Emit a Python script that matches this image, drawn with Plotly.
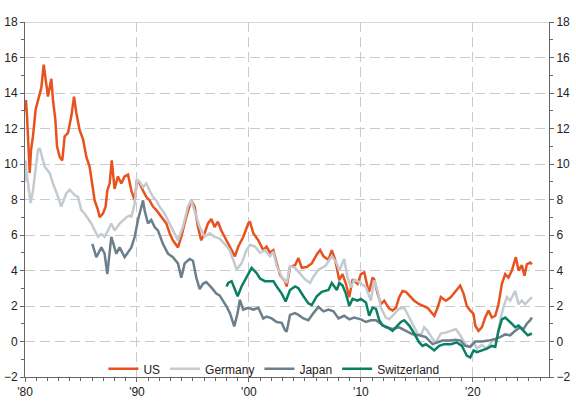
import plotly.graph_objects as go

# 10y government bond yields (%)
us_year = [1980.0, 1980.09, 1980.18, 1980.33, 1980.42, 1980.54, 1980.71, 1980.95, 1981.31, 1981.46,
           1981.67, 1981.85, 1982.05, 1982.35, 1982.5, 1982.71, 1982.86, 1983.1, 1983.33, 1983.54,
           1983.84, 1984.14, 1984.38, 1984.58, 1984.88, 1985.18, 1985.48, 1985.77, 1986.01, 1986.22,
           1986.52, 1986.67, 1986.96, 1987.2, 1987.35, 1987.56, 1987.75, 1988.0, 1988.3, 1988.6,
           1988.9, 1989.2, 1989.5, 1989.8, 1990.0, 1990.24, 1990.54, 1990.83, 1991.13, 1991.43,
           1991.73, 1992.17, 1992.62, 1992.92, 1993.21, 1993.66, 1993.96, 1994.4, 1994.85, 1995.15,
           1995.45, 1995.74, 1996.04, 1996.34, 1996.64, 1996.93, 1997.23, 1997.53, 1997.83, 1998.13,
           1998.75, 1999.05, 1999.5, 1999.94, 2000.09, 2000.39, 2000.84, 2001.28, 2001.58, 2001.88,
           2002.18, 2002.48, 2002.78, 2003.22, 2003.37, 2003.67, 2004.12, 2004.42, 2004.72, 2005.16,
           2005.61, 2006.06, 2006.36, 2006.66, 2007.1, 2007.4, 2007.7, 2008.07, 2008.36, 2008.66,
           2008.96, 2009.26, 2009.7, 2010.0, 2010.3, 2010.6, 2010.74, 2011.04, 2011.19, 2011.49,
           2011.79, 2012.08, 2012.53, 2012.83, 2013.13, 2013.42, 2013.72, 2014.02, 2014.32, 2014.76,
           2015.21, 2015.65, 2015.95, 2016.55, 2016.85, 2017.14, 2017.59, 2018.04, 2018.48, 2018.87,
           2019.17, 2019.46, 2019.76, 2020.06, 2020.21, 2020.5, 2020.8, 2021.1, 2021.4, 2021.7,
           2022.0, 2022.29, 2022.59, 2022.89, 2023.18, 2023.48, 2023.84, 2024.08, 2024.38, 2024.61,
           2024.82, 2025.12, 2025.27]
us_yield = [13.0, 13.6, 12.7, 10.2, 9.5, 10.8, 11.55, 13.07, 14.0, 14.3,
            15.6, 14.6, 13.8, 14.8, 13.6, 12.5, 11.0, 10.4, 10.2, 11.55,
            11.75, 12.7, 13.8, 12.9, 11.9, 11.4, 10.4, 9.85, 8.9, 7.95,
            7.4, 7.0, 7.2, 7.6, 8.5, 8.9, 10.2, 8.6, 9.3, 8.9,
            9.3, 9.4, 8.5, 7.95, 9.1, 8.9, 8.5, 8.15, 7.95, 7.6,
            7.4, 7.0, 6.65, 6.1, 5.7, 5.3, 5.9, 7.0, 7.95, 7.6,
            6.45, 5.7, 6.1, 6.65, 6.9, 6.45, 6.75, 6.25, 5.9, 5.5,
            4.8, 5.35, 5.9, 6.65, 6.75, 6.1, 5.7, 5.15, 5.35, 5.0,
            5.15, 4.4, 3.75, 3.4, 3.1, 4.2, 4.3, 4.7, 4.15, 4.2,
            4.4, 4.9, 5.15, 4.8, 4.6, 5.15, 4.6, 3.45, 3.8, 3.25,
            2.5, 3.5, 3.25, 3.8, 3.9, 3.05, 2.8, 3.6, 3.5, 2.7,
            2.1, 2.3, 1.85, 1.75, 1.9, 2.5, 2.85, 2.8, 2.6, 2.3,
            2.1, 2.0, 1.9, 1.45, 1.9, 2.5, 2.3, 2.5, 2.85, 3.15,
            2.7, 2.0, 1.75, 1.55, 0.9, 0.6, 0.8, 1.35, 1.75, 1.35,
            1.45, 2.1, 3.25, 3.8, 3.6, 4.0, 4.75, 4.0, 4.3, 3.7,
            4.35, 4.45, 4.35]

de_year = [1980.0, 1980.06, 1980.12, 1980.33, 1980.5, 1980.71, 1980.95, 1981.16, 1981.31, 1981.52,
           1981.76, 1982.2, 1982.5, 1982.95, 1983.24, 1983.69, 1983.99, 1984.43, 1984.73, 1985.03,
           1985.33, 1985.92, 1986.22, 1986.52, 1986.82, 1987.11, 1987.41, 1987.71, 1988.0, 1988.45,
           1989.05, 1989.35, 1989.5, 1989.8, 1990.0, 1990.24, 1990.54, 1990.83, 1991.13, 1991.43,
           1991.73, 1992.02, 1992.47, 1992.92, 1993.36, 1993.66, 1994.1, 1994.55, 1994.85, 1995.15,
           1995.6, 1996.04, 1996.49, 1996.93, 1997.38, 1997.83, 1998.27, 1998.6, 1998.9, 1999.34,
           1999.79, 2000.09, 2000.54, 2000.99, 2001.43, 2001.88, 2002.18, 2002.48, 2002.93, 2003.37,
           2003.67, 2004.12, 2004.57, 2005.01, 2005.46, 2005.76, 2006.21, 2006.81, 2007.4, 2007.85,
           2008.07, 2008.51, 2008.81, 2009.11, 2009.4, 2009.85, 2010.45, 2010.89, 2011.19, 2011.49,
           2011.79, 2012.23, 2012.53, 2012.98, 2013.42, 2013.87, 2014.17, 2014.61, 2015.06, 2015.36,
           2015.65, 2015.95, 2016.4, 2016.7, 2017.14, 2017.59, 2018.04, 2018.48, 2018.87, 2019.32,
           2019.76, 2020.06, 2020.36, 2020.8, 2021.25, 2021.7, 2022.14, 2022.44, 2022.74, 2023.04,
           2023.33, 2023.78, 2024.08, 2024.38, 2024.67, 2024.97, 2025.27]
de_yield = [9.0, 10.2, 9.65, 8.5, 7.8, 8.5, 9.65, 10.8, 10.9, 10.4,
            9.85, 9.5, 8.9, 8.15, 7.6, 8.35, 8.55, 8.25, 8.15, 7.4,
            7.2, 6.65, 6.25, 5.9, 6.05, 5.9, 6.25, 6.65, 6.25, 6.65,
            7.0, 7.1, 7.0, 7.8, 9.1, 9.0, 8.7, 8.9, 8.5, 8.15,
            7.95, 7.6, 7.2, 6.65, 6.1, 5.7, 6.45, 7.6, 7.95, 7.4,
            6.45, 5.9, 6.1, 5.9, 5.8, 5.5, 5.15, 4.6, 4.05, 4.4,
            5.15, 5.45, 5.35, 5.0, 5.15, 4.8, 5.05, 4.25, 3.65, 3.3,
            4.25, 4.15, 3.85, 3.5, 3.3, 3.65, 4.05, 4.25, 4.8, 4.4,
            4.0, 4.65, 3.6, 3.05, 3.5, 3.35, 3.05, 2.3, 3.45, 2.85,
            1.9, 1.35, 1.25, 1.55, 1.85, 1.9, 1.55, 1.0, 0.45, 0.35,
            0.8, 0.6, 0.15, -0.05, 0.45, 0.5, 0.6, 0.7, 0.35, -0.15,
            -0.3, 0.0, -0.4, -0.2, -0.4, 0.0, 0.15, 1.2, 1.95, 2.5,
            2.3, 2.85, 2.1, 2.3, 2.1, 2.3, 2.5]

jp_year = [1986.01, 1986.37, 1986.82, 1987.11, 1987.35, 1987.71, 1988.15, 1988.45, 1988.9, 1989.35,
           1989.5, 1989.8, 1990.09, 1990.54, 1990.68, 1990.98, 1991.28, 1991.58, 1991.88, 1992.32,
           1992.77, 1993.21, 1993.66, 1993.96, 1994.26, 1994.7, 1995.0, 1995.3, 1995.6, 1995.89,
           1996.19, 1996.64, 1997.08, 1997.38, 1997.68, 1997.98, 1998.3, 1998.69, 1998.99, 1999.19,
           1999.49, 1999.94, 2000.39, 2000.84, 2001.28, 2001.58, 2002.03, 2002.48, 2002.93, 2003.22,
           2003.37, 2003.67, 2004.12, 2004.42, 2004.87, 2005.31, 2005.76, 2006.21, 2006.66, 2007.1,
           2007.55, 2008.0, 2008.51, 2008.96, 2009.4, 2010.0, 2010.45, 2010.89, 2011.34, 2011.79,
           2012.23, 2012.83, 2013.42, 2014.02, 2014.61, 2015.21, 2015.8, 2016.4, 2016.85, 2017.29,
           2017.89, 2018.48, 2018.9, 2019.32, 2019.76, 2020.21, 2020.8, 2021.4, 2022.0, 2022.44,
           2022.89, 2023.33, 2023.78, 2024.23, 2024.52, 2024.82, 2025.12, 2025.27]
jp_yield = [5.5, 4.75, 5.3, 4.95, 3.8, 5.9, 4.95, 5.3, 4.75, 5.15,
            5.3, 5.9, 6.85, 7.95, 7.4, 6.65, 6.85, 6.45, 6.25, 5.5,
            4.95, 4.75, 4.4, 3.6, 4.4, 4.65, 4.55, 3.6, 2.95, 3.25,
            3.35, 3.05, 2.7, 2.6, 2.3, 2.0, 1.6, 0.85, 1.6, 2.35,
            1.8, 1.9, 1.8, 1.9, 1.3, 1.4, 1.3, 1.1, 1.05, 0.65,
            0.55, 1.5, 1.6, 1.5, 1.3, 1.2, 1.6, 1.95, 1.7, 1.8,
            1.7, 1.3, 1.45, 1.25, 1.35, 1.25, 1.1, 1.2, 1.2, 1.0,
            0.8, 0.7, 0.8, 0.6, 0.4, 0.35, 0.25, -0.15, -0.05, 0.05,
            0.05, 0.1, 0.05, -0.25, -0.3, 0.0, 0.0, 0.05, 0.15, 0.25,
            0.4, 0.35, 0.6, 0.8, 0.7, 1.0, 1.2, 1.35]

ch_year = [1998.0, 1998.15, 1998.45, 1998.75, 1998.99, 1999.34, 1999.79, 2000.24, 2000.69, 2000.99,
           2001.43, 2001.88, 2002.18, 2002.48, 2002.93, 2003.28, 2003.67, 2004.12, 2004.42, 2004.87,
           2005.31, 2005.61, 2006.06, 2006.51, 2007.1, 2007.4, 2007.85, 2008.07, 2008.36, 2008.66,
           2008.96, 2009.26, 2009.7, 2010.0, 2010.45, 2010.74, 2011.04, 2011.34, 2011.64, 2011.93,
           2012.38, 2012.83, 2013.27, 2013.57, 2013.87, 2014.32, 2014.76, 2015.21, 2015.51, 2015.8,
           2016.25, 2016.55, 2016.99, 2017.44, 2018.04, 2018.57, 2019.02, 2019.46, 2019.76, 2020.06,
           2020.36, 2020.8, 2021.25, 2021.7, 2022.0, 2022.29, 2022.59, 2022.89, 2023.18, 2023.48,
           2023.78, 2024.08, 2024.38, 2024.67, 2024.91, 2025.27]
ch_yield = [3.1, 3.3, 3.4, 2.9, 2.55, 3.1, 3.65, 4.15, 3.85, 3.55,
            3.4, 3.4, 3.4, 3.1, 2.7, 2.25, 2.9, 3.1, 3.0, 2.55,
            2.15, 2.05, 2.55, 2.8, 2.9, 3.3, 2.9, 3.3, 3.15, 2.7,
            2.0, 2.4, 2.3, 2.4, 2.2, 1.45, 1.9, 1.85, 1.2, 0.9,
            0.8, 0.6, 0.9, 1.1, 1.2, 0.9, 0.45, -0.05, -0.25, -0.15,
            -0.35, -0.5, -0.25, -0.15, -0.15, -0.05, -0.25, -0.8, -0.9, -0.5,
            -0.6, -0.5, -0.4, -0.25, -0.3, 0.6, 1.25, 1.35, 1.2, 1.0,
            0.8, 0.9, 0.7, 0.5, 0.35, 0.45]

series = [
    ("US", us_year, us_yield, "#E8521E"),
    ("Germany", de_year, de_yield, "#C3CBD1"),
    ("Japan", jp_year, jp_yield, "#6C7F8C"),
    ("Switzerland", ch_year, ch_yield, "#0A8063"),
]

decade_ticks = [1980, 1990, 2000, 2010, 2020]
decade_labels = ["'80", "'90", "'00", "'10", "'20"]

fig = go.Figure()
for name, xs, ys, col in series:
    fig.add_trace(go.Scatter(x=xs, y=ys, mode="lines", name=name,
                             line=dict(color=col, width=2.5)))

# invisible copy on the right-hand axis so that axis gets drawn
fig.add_trace(go.Scatter(x=us_year, y=us_yield, yaxis="y2", mode="lines", opacity=0,
                         showlegend=False, hoverinfo="skip", line=dict(width=0)))

axis_col = "#666666"
grid_col = "#CACACA"
font = dict(family="Liberation Sans, Arial, sans-serif", size=12, color="#222222")

fig.update_layout(
    width=576, height=404,
    margin=dict(l=25, r=27, t=22, b=27, autoexpand=False),
    paper_bgcolor="white", plot_bgcolor="white",
    font=font,
    legend=dict(orientation="h", x=0.475, y=0.023, xanchor="center", yanchor="middle",
                bgcolor="rgba(0,0,0,0)", font=dict(size=12), itemwidth=30),
    xaxis=dict(range=[1980, 2026.8], tickvals=decade_ticks, ticktext=decade_labels,
               automargin=False,
               showgrid=True, gridcolor=grid_col, griddash="10px,5px", gridwidth=1,
               showline=True, linecolor=axis_col, linewidth=1,
               ticks="outside", ticklen=4, tickcolor=axis_col,
               minor=dict(dtick=1, tick0=1980, ticks="outside", ticklen=3, tickcolor=axis_col,
                          showgrid=False),
               zeroline=False),
    yaxis=dict(range=[-2, 18], dtick=2, tick0=0, automargin=False,
               showgrid=True, gridcolor=grid_col, griddash="10px,5px", gridwidth=1,
               showline=True, linecolor=axis_col, linewidth=1,
               ticks="outside", ticklen=4, tickcolor=axis_col,
               minor=dict(dtick=1, ticks="outside", ticklen=3, tickcolor=axis_col, showgrid=False),
               zeroline=False),
    yaxis2=dict(range=[-2, 18], dtick=2, tick0=0, overlaying="y", side="right",
                automargin=False,
                showgrid=False, showline=True, linecolor=axis_col, linewidth=1,
                ticks="outside", ticklen=4, tickcolor=axis_col,
                minor=dict(dtick=1, ticks="outside", ticklen=3, tickcolor=axis_col),
                zeroline=False),
    shapes=[dict(type="line", xref="paper", x0=0, x1=1, yref="y", y0=18, y1=18,
                 line=dict(color=grid_col, width=1.5), layer="below")],
)

# page body margin would otherwise push the 576x404 figure off the window
fig.write_html("out.html", config={"displayModeBar": False},
               post_script="document.body.style.margin='0';")
